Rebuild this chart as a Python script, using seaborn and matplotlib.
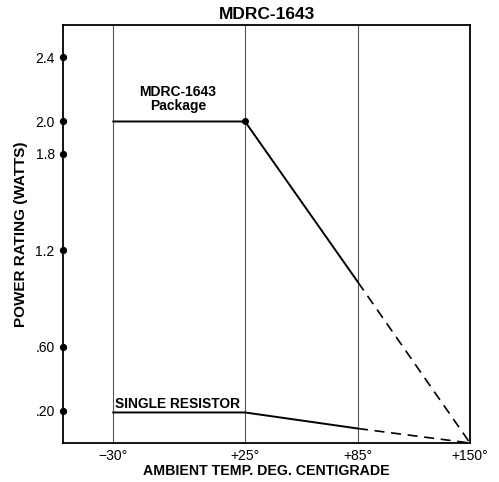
import numpy as np
import pandas as pd
import seaborn as sns
from matplotlib import pyplot as plt

# temperature (deg C) vs power rating (W)
pkg_temp = [-30, 25, 85, 150]
pkg_watts = [2.0, 2.0, 1.0, 0.0]
res_temp = [-30, 25, 85, 150]
res_watts = [0.19, 0.19, 0.09, 0.0]

x_ticks = [-30, 25, 85, 150]
x_labels = ['\u221230\u00b0', '+25\u00b0', '+85\u00b0', '+150\u00b0']
y_ticks = [0.2, 0.6, 1.2, 1.8, 2.0, 2.4]
y_labels = ['.20', '.60', '1.2', '1.8', '2.0', '2.4']

# the printed chart does not space the temperatures evenly
knot_t = [-51, -30, 25, 85, 150]
knot_p = [0, 50, 182, 295, 407]


def fwd(t):
    return np.interp(t, knot_t, knot_p)


def inv(p):
    return np.interp(p, knot_p, knot_t)


sns.set_theme(style='white')
plt.rcParams['font.family'] = ['Liberation Sans', 'DejaVu Sans']
plt.rcParams['text.color'] = 'black'
plt.rcParams['axes.labelcolor'] = 'black'
plt.rcParams['xtick.color'] = 'black'
plt.rcParams['ytick.color'] = 'black'

fig = plt.figure(figsize=(4.99, 4.82), dpi=100)
ax = fig.add_axes([0.1263, 0.0809, 0.8156, 0.8672])
ax.set_xscale('function', functions=(fwd, inv))

pkg = pd.DataFrame({'temp': pkg_temp, 'watts': pkg_watts})
res = pd.DataFrame({'temp': res_temp, 'watts': res_watts})

for df in (pkg, res):
    sns.lineplot(data=df.iloc[:3], x='temp', y='watts', ax=ax, color='black',
                 lw=1.4, sort=False)
    sns.lineplot(data=df.iloc[2:], x='temp', y='watts', ax=ax, color='black',
                 lw=1.2, linestyle=(0, (6, 4)), sort=False)

ax.plot([25], [2.0], 'o', color='black', ms=4)

ax.set_xlim(-51, 150)
ax.set_ylim(0, 2.6)
ax.set_xticks(x_ticks)
ax.set_xticklabels(x_labels, fontsize=10)
ax.set_yticks(y_ticks)
ax.set_yticklabels(y_labels, fontsize=10)

for t in x_ticks:
    ax.axvline(t, color='#555555', lw=0.8, zorder=0)

ax.tick_params(axis='x', length=0, pad=4)
ax.tick_params(axis='y', left=True, length=0, pad=6)
for tick in ax.yaxis.get_major_ticks():
    tick.tick1line.set_marker('o')
    tick.tick1line.set_markersize(4)
    tick.tick1line.set_color('black')
    tick.tick1line.set_clip_on(False)

for sp in ax.spines.values():
    sp.set_color('black')
    sp.set_linewidth(1.3)

ax.set_xlabel('AMBIENT TEMP. DEG. CENTIGRADE', fontsize=10.2,
              fontweight='bold', labelpad=1)
ax.set_ylabel('POWER RATING (WATTS)', fontsize=11, fontweight='bold',
              labelpad=5)
ax.set_title('MDRC-1643', fontsize=12.5, fontweight='heavy', pad=4)

ax.text(-3, 2.05, 'MDRC-1643\nPackage', ha='center', va='bottom',
        fontsize=10, fontweight='bold', linespacing=1.05)
ax.text(-29, 0.2, 'SINGLE RESISTOR', ha='left', va='bottom',
        fontsize=9.9, fontweight='bold')

plt.savefig('out.png', dpi=100)
